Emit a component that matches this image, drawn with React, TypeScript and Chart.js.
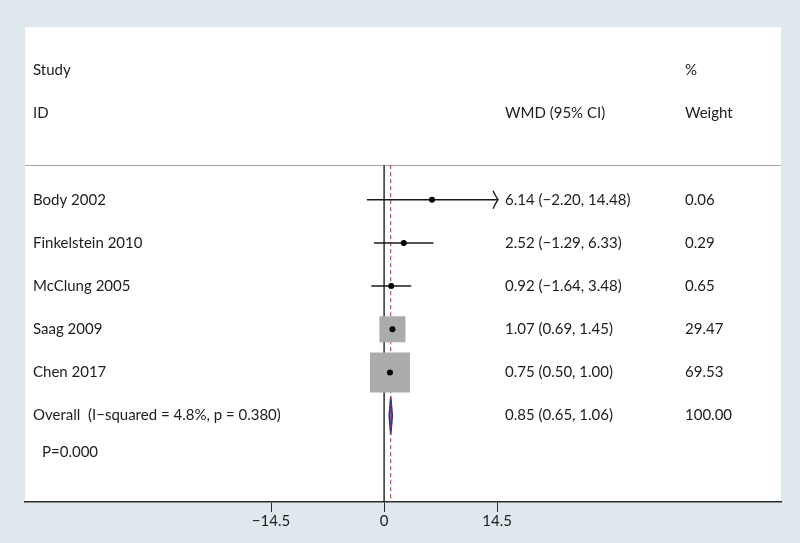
import React, { useEffect, useRef } from 'react';
import { Chart, registerables } from 'chart.js';

Chart.register(...registerables);

// ---- Data ----
const studies = ['Body 2002', 'Finkelstein 2010', 'McClung 2005', 'Saag 2009', 'Chen 2017'];
const wmd = [6.14, 2.52, 0.92, 1.07, 0.75];
const ciLower = [-2.2, -1.29, -1.64, 0.69, 0.5];
const ciUpper = [14.48, 6.33, 3.48, 1.45, 1.0];
const weights = [0.06, 0.29, 0.65, 29.47, 69.53];
const ciArrow = [true, false, false, false, false];
const overallEst = [0.85];
const overallCI = [0.65, 1.06];
const overallWeight = [100.0];
const overallLabel = 'Overall  (I\u2212squared = 4.8%, p = 0.380)';
const pLabel = 'P=0.000';
const headerTop = ['Study', '', '%'];
const headerBottom = ['ID', 'WMD (95% CI)', 'Weight'];
const xTicks = [-14.5, 0, 14.5];

// ---- Layout (rows on a linear y scale) ----
const headerRows = [0, 1];
const sepRow = 2.2;
const studyRows = studies.map((_, i) => 3 + i);
const overallRow = 8;
const pRow = 8.85;
const yMin = -1;
const yMax = 10;
const diamondHalf = 0.44;
const maxBoxSide = 40;

const fmt = (v: number) => (v < 0 ? '\u2212' : '') + Math.abs(v).toFixed(2);
const ciText = (e: number, l: number, u: number) => `${fmt(e)} (${fmt(l)}, ${fmt(u)})`;

const FONT = '15px Lato';
const TEXT = '#1e1c1d';

const maxW = Math.max(...weights);
const boxRadius = weights.map((w) => (maxBoxSide * Math.sqrt(w / maxW)) / (2 * Math.SQRT1_2));

const forestPlugin = {
  id: 'forest',
  beforeDraw(chart: any) {
    const { ctx, chartArea: a, width, height } = chart;
    ctx.save();
    ctx.fillStyle = '#dee8ed';
    ctx.fillRect(0, 0, width, height);
    ctx.fillStyle = '#ffffff';
    ctx.fillRect(a.left, a.top, a.right - a.left, a.bottom - a.top);
    const y = Math.round(chart.scales.y.getPixelForValue(sepRow)) + 0.5;
    ctx.strokeStyle = '#a3a3a3';
    ctx.lineWidth = 1;
    ctx.beginPath();
    ctx.moveTo(a.left, y);
    ctx.lineTo(a.right, y);
    ctx.stroke();
    ctx.restore();
  },
  afterDatasetsDraw(chart: any) {
    const { ctx, chartArea: a } = chart;
    const xs = chart.scales.x;
    const ys = chart.scales.y;
    ctx.save();
    // arrows for truncated CIs
    ctx.strokeStyle = '#1a1a1a';
    ctx.lineWidth = 1.4;
    studies.forEach((_, i) => {
      if (!ciArrow[i]) return;
      const x = xs.getPixelForValue(ciUpper[i]);
      const y = ys.getPixelForValue(studyRows[i]);
      ctx.beginPath();
      ctx.moveTo(x - 4, y - 9);
      ctx.quadraticCurveTo(x - 1, y - 3, x + 1, y);
      ctx.quadraticCurveTo(x - 1, y + 3, x - 4, y + 9);
      ctx.stroke();
    });
    // text columns
    ctx.font = FONT;
    ctx.fillStyle = TEXT;
    ctx.textAlign = 'left';
    ctx.textBaseline = 'middle';
    const colStudy = a.left + 8;
    const colCI = a.left + 480;
    const colW = a.left + 660;
    const cols = [colStudy, colCI, colW];
    [headerTop, headerBottom].forEach((row, r) => {
      const y = ys.getPixelForValue(headerRows[r]);
      row.forEach((t, c) => {
        if (t) ctx.fillText(t, cols[c], y);
      });
    });
    studies.forEach((s, i) => {
      const y = ys.getPixelForValue(studyRows[i]);
      ctx.fillText(s, colStudy, y);
      ctx.fillText(ciText(wmd[i], ciLower[i], ciUpper[i]), colCI, y);
      ctx.fillText(weights[i].toFixed(2), colW, y);
    });
    const yo = ys.getPixelForValue(overallRow);
    ctx.fillText(overallLabel, colStudy, yo);
    ctx.fillText(ciText(overallEst[0], overallCI[0], overallCI[1]), colCI, yo);
    ctx.fillText(overallWeight[0].toFixed(2), colW, yo);
    ctx.fillText(pLabel, colStudy + 9, ys.getPixelForValue(pRow));
    ctx.restore();
  },
};

export default function App() {
  const ref = useRef<HTMLCanvasElement>(null);
  useEffect(() => {
    document.body.style.margin = '0';
    const ciSets = studies.map((s, i) => ({
      label: s + ' CI',
      data: [
        { x: ciLower[i], y: studyRows[i] },
        { x: ciUpper[i], y: studyRows[i] },
      ],
      showLine: true,
      borderColor: '#1a1a1a',
      borderWidth: 1.5,
      pointRadius: 0,
      order: 2,
    }));
    const chart = new Chart(ref.current!, {
      type: 'scatter',
      data: {
        datasets: [
          {
            label: 'estimates',
            data: studies.map((_, i) => ({ x: wmd[i], y: studyRows[i] })),
            pointRadius: 3,
            pointStyle: 'circle',
            backgroundColor: '#000',
            borderWidth: 0,
            order: 0,
          },
          {
            label: 'weights',
            data: studies.map((_, i) => ({ x: wmd[i], y: studyRows[i] })),
            pointRadius: boxRadius,
            pointStyle: 'rect',
            backgroundColor: '#a9abad',
            borderWidth: 0,
            order: 1,
          },
          ...ciSets,
          {
            label: 'overall line',
            data: [
              { x: overallEst[0], y: sepRow },
              { x: overallEst[0], y: yMax },
            ],
            showLine: true,
            borderColor: '#c4262e',
            borderWidth: 1,
            borderDash: [4, 3],
            pointRadius: 0,
            order: 3,
          },
          {
            label: 'overall diamond',
            data: [
              { x: overallCI[0], y: overallRow },
              { x: overallEst[0], y: overallRow - diamondHalf },
              { x: overallCI[1], y: overallRow },
              { x: overallEst[0], y: overallRow + diamondHalf },
              { x: overallCI[0], y: overallRow },
            ],
            showLine: true,
            borderColor: '#27338a',
            borderWidth: 1.5,
            backgroundColor: 'rgba(120,60,110,0.8)',
            fill: 'shape',
            pointRadius: 0,
            order: 4,
          },
          {
            label: 'null line',
            data: [
              { x: 0, y: sepRow },
              { x: 0, y: yMax },
            ],
            showLine: true,
            borderColor: '#111',
            borderWidth: 1.3,
            pointRadius: 0,
            order: 5,
          },
        ],
      },
      options: {
        responsive: false,
        animation: false,
        layout: { autoPadding: false, padding: { left: 25, top: 27, right: 19, bottom: 0 } },
        plugins: { legend: { display: false }, tooltip: { enabled: false } },
        scales: {
          x: {
            type: 'linear',
            min: -46.05,
            max: 50.9,
            afterBuildTicks: (s: any) => {
              s.ticks = xTicks.map((v) => ({ value: v }));
            },
            afterFit: (s: any) => {
              s.height = 41;
            },
            ticks: {
              autoSkip: false,
              maxRotation: 0,
              padding: 0,
              color: TEXT,
              font: { family: 'Lato', size: 15 },
              callback: (v: any) => (v < 0 ? '\u2212' + Math.abs(v) : String(v)),
            },
            grid: { drawOnChartArea: false, drawTicks: true, tickLength: 10, color: '#2a2a2a', lineWidth: 1 },
            border: { display: true, color: '#2a2a2a', width: 1.5 },
          },
          y: { type: 'linear', min: yMin, max: yMax, reverse: true, display: false },
        },
      },
      plugins: [forestPlugin],
    } as any);
    return () => chart.destroy();
  }, []);
  return (
    <div style={{ width: 800, height: 543 }}>
      <canvas ref={ref} width={800} height={543} style={{ display: 'block' }} />
    </div>
  );
}
